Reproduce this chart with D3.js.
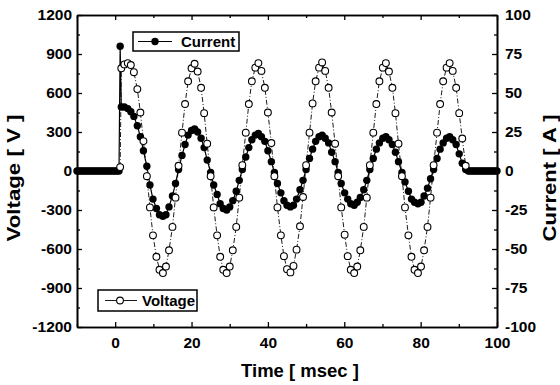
<!DOCTYPE html>
<html>
<head>
<meta charset="utf-8">
<script src="https://cdn.jsdelivr.net/npm/d3@7"></script>
<style>
  body { margin: 0; background: #fff; }
  svg text { font-family: 'Liberation Sans', Arial, sans-serif; font-weight: bold; fill: #000; }
  .axis path, .axis line { stroke: #000; }
  .axis path { stroke-width: 1.6; }
  .axis line { stroke-width: 1.3; }
  .axis text { font-size: 15.5px; }
</style>
</head>
<body>
<svg id="chart" width="560" height="385"></svg>
<script>
// tick labels
var xTicks = [0, 20, 40, 60, 80, 100]
var xMinor = [-10, 10, 30, 50, 70, 90]
var voltTicks = [-1200, -900, -600, -300, 0, 300, 600, 900, 1200]
var voltMinor = [-1050, -750, -450, -150, 150, 450, 750, 1050]
var ampTicks = [-100, -75, -50, -25, 0, 25, 50, 75, 100]
var ampMinor = [-87.5, -62.5, -37.5, -12.5, 12.5, 37.5, 62.5, 87.5]

// flat parts before the pulse and after it (msec)
var flatBeforeTime = [-10, -9.5, -9, -8.5, -8, -7.5, -7, -6.5, -6, -5.5, -5, -4.5, -4, -3.5, -3, -2.5, -2, -1.5, -1, -0.5, 0, 0.5, 1]
var flatAfterTime = [92.5, 93, 93.5, 94, 94.5, 95, 95.5, 96, 96.5, 97, 97.5, 98, 98.5, 99, 99.5, 100]

// samples during the pulse (msec)
var pulseTime = [
  1.6, 2.4, 3.3, 4.1, 4.9, 5.8, 6.6, 7.4, 8.3, 9.1,
  9.9, 10.8, 11.6, 12.5, 13.3, 14.1, 15.0, 15.8, 16.6, 17.5,
  18.3, 19.1, 20.0, 20.8, 21.6, 22.5, 23.3, 24.1, 25.0, 25.8,
  26.7, 27.5, 28.3, 29.2, 30.0, 30.8, 31.7, 32.5, 33.3, 34.2,
  35.0, 35.8, 36.7, 37.5, 38.3, 39.2, 40.0, 40.9, 41.7, 42.5,
  43.4, 44.2, 45.0, 45.9, 46.7, 47.5, 48.4, 49.2, 50.0, 50.9,
  51.7, 52.5, 53.4, 54.2, 55.0, 55.9, 56.7, 57.6, 58.4, 59.2,
  60.1, 60.9, 61.7, 62.6, 63.4, 64.2, 65.1, 65.9, 66.7, 67.6,
  68.4, 69.2, 70.1, 70.9, 71.7, 72.6, 73.4, 74.2, 75.1, 75.9,
  76.8, 77.6, 78.4, 79.3, 80.1, 80.9, 81.8, 82.6, 83.4, 84.3,
  85.1, 85.9, 86.8, 87.6, 88.4, 89.3, 90.1, 90.9, 91.8
]

// current [A]
var currentBefore = [0, 0, 0, 0, 0, 0, 0, 0, 0, 0, 0, 0, 0, 0, 0, 0, 0, 0, 0, 0, 0, 0, 0]
var spikeTime = 1.3
var spikeAmps = 80
var currentPulse = [
  41, 41, 40, 38, 35, 29, 22, 13, 3, -9,
  -18, -24, -28, -29, -28, -23, -16, -8, 1, 10,
  17, 23, 26, 27, 25, 21, 15, 7, -1, -9,
  -15, -21, -24, -25, -23, -19, -13, -6, 1, 9,
  15, 20, 23, 24, 22, 19, 13, 6, -1, -8,
  -14, -19, -22, -23, -22, -18, -12, -6, 1, 8,
  14, 19, 22, 23, 21, 18, 12, 6, -1, -8,
  -14, -18, -21, -22, -20, -17, -12, -6, 1, 8,
  14, 18, 21, 22, 20, 17, 12, 6, -1, -7,
  -13, -18, -20, -21, -20, -16, -11, -5, 1, 8,
  14, 18, 21, 22, 20, 17, 11, 5, 1
]
var currentAfter = [0, 0, 0, 0, 0, 0, 0, 0, 0, 0, 0, 0, 0, 0, 0, 0]

// voltage [V]
var voltStartTime = 1.3
var voltStart = 30
var voltPulse = [
  790, 820, 830, 815, 760, 630, 450, 230, -40, -280,
  -495, -660, -760, -785, -735, -610, -430, -205, 40, 295,
  515, 690, 790, 825, 765, 640, 445, 210, -40, -280,
  -495, -660, -760, -785, -735, -610, -430, -205, 45, 295,
  515, 690, 795, 830, 770, 640, 450, 215, -40, -280,
  -495, -655, -755, -780, -730, -605, -425, -200, 45, 295,
  520, 690, 795, 835, 770, 640, 450, 210, -40, -280,
  -490, -655, -760, -785, -735, -610, -430, -205, 45, 295,
  515, 690, 795, 830, 765, 640, 445, 210, -40, -280,
  -495, -660, -760, -785, -735, -610, -430, -205, 45, 295,
  515, 690, 795, 830, 770, 640, 445, 250, 40
]

var currentData = flatBeforeTime.map(function(t, i) { return {t: t, v: currentBefore[i]} })
  .concat([{t: spikeTime, v: spikeAmps}])
  .concat(pulseTime.map(function(t, i) { return {t: t, v: currentPulse[i]} }))
  .concat(flatAfterTime.map(function(t, i) { return {t: t, v: currentAfter[i]} }))

var voltageData = [{t: voltStartTime, v: voltStart}]
  .concat(pulseTime.map(function(t, i) { return {t: t, v: voltPulse[i]} }))

var margin = {top: 15, right: 63, bottom: 58, left: 77}
  , width = 560 - margin.left - margin.right
  , height = 385 - margin.top - margin.bottom

const xScale = d3.scaleLinear().domain([-10, 100]).range([0, width])
const yVolt = d3.scaleLinear().domain([-1200, 1200]).range([height, 0])
const yAmp = d3.scaleLinear().domain([-100, 100]).range([height, 0])

// plain numbers with a hyphen minus, no thousands comma
var plain = function(d) { return String(d) }

const svg = d3.select('#chart')
  .append('g')
    .attr('transform', 'translate(' + margin.left + ',' + margin.top + ')')

// axes, ticks pointing inward
svg.append('g')
    .attr('class', 'axis')
    .attr('transform', 'translate(0,' + height + ')')
    .call(d3.axisBottom(xScale).tickValues(xTicks).tickSizeInner(-5).tickSizeOuter(0).tickPadding(10).tickFormat(plain))
svg.append('g')
    .attr('class', 'axis')
    .attr('transform', 'translate(0,' + height + ')')
    .call(d3.axisBottom(xScale).tickValues(xMinor).tickSizeInner(-3).tickSizeOuter(0).tickFormat(''))
svg.append('g')
    .attr('class', 'axis')
    .call(d3.axisTop(xScale).tickValues(xTicks).tickSizeInner(-5).tickSizeOuter(0).tickFormat(''))
svg.append('g')
    .attr('class', 'axis')
    .call(d3.axisTop(xScale).tickValues(xMinor).tickSizeInner(-3).tickSizeOuter(0).tickFormat(''))

svg.append('g')
    .attr('class', 'axis')
    .call(d3.axisLeft(yVolt).tickValues(voltTicks).tickSizeInner(-5).tickSizeOuter(0).tickPadding(5).tickFormat(plain))
svg.append('g')
    .attr('class', 'axis')
    .call(d3.axisLeft(yVolt).tickValues(voltMinor).tickSizeInner(-3).tickSizeOuter(0).tickFormat(''))

svg.append('g')
    .attr('class', 'axis')
    .attr('transform', 'translate(' + width + ',0)')
    .call(d3.axisRight(yAmp).tickValues(ampTicks).tickSizeInner(-5).tickSizeOuter(0).tickPadding(8).tickFormat(plain))
svg.append('g')
    .attr('class', 'axis')
    .attr('transform', 'translate(' + width + ',0)')
    .call(d3.axisRight(yAmp).tickValues(ampMinor).tickSizeInner(-3).tickSizeOuter(0).tickFormat(''))

// current: solid line, filled dots
var currentLine = d3.line()
  .x(function(d) { return xScale(d.t) })
  .y(function(d) { return yAmp(d.v) })

svg.append('path')
    .datum(currentData)
    .attr('fill', 'none')
    .attr('stroke', '#000')
    .attr('stroke-width', 1.2)
    .attr('d', currentLine)

svg.append('g').selectAll('circle')
    .data(currentData)
    .enter().append('circle')
      .attr('cx', function(d) { return xScale(d.t) })
      .attr('cy', function(d) { return yAmp(d.v) })
      .attr('r', 3.7)
      .attr('fill', '#000')

// voltage: dash-dot line, open circles
var voltLine = d3.line()
  .x(function(d) { return xScale(d.t) })
  .y(function(d) { return yVolt(d.v) })

svg.append('path')
    .datum(voltageData)
    .attr('fill', 'none')
    .attr('stroke', '#000')
    .attr('stroke-width', 0.9)
    .attr('stroke-dasharray', '5,2,1,2')
    .attr('d', voltLine)

svg.append('g').selectAll('circle')
    .data(voltageData)
    .enter().append('circle')
      .attr('cx', function(d) { return xScale(d.t) })
      .attr('cy', function(d) { return yVolt(d.v) })
      .attr('r', 3.4)
      .attr('fill', '#fff')
      .attr('stroke', '#000')
      .attr('stroke-width', 1.1)

// legends
var root = d3.select('#chart')

var leg1 = root.append('g').attr('transform', 'translate(133,32)')
leg1.append('rect').attr('width', 106).attr('height', 19)
    .attr('fill', '#fff').attr('stroke', '#000').attr('stroke-width', 1.5)
leg1.append('line').attr('x1', 5).attr('x2', 39).attr('y1', 9.5).attr('y2', 9.5)
    .attr('stroke', '#000').attr('stroke-width', 1.2)
leg1.append('circle').attr('cx', 22).attr('cy', 9.5).attr('r', 3.7).attr('fill', '#000')
leg1.append('text').attr('x', 48).attr('y', 15).style('font-size', '15px').text('Current')

var leg2 = root.append('g').attr('transform', 'translate(98,290)')
leg2.append('rect').attr('width', 99).attr('height', 21)
    .attr('fill', '#fff').attr('stroke', '#000').attr('stroke-width', 1.5)
leg2.append('line').attr('x1', 7).attr('x2', 39).attr('y1', 10.5).attr('y2', 10.5)
    .attr('stroke', '#000').attr('stroke-width', 0.9)
leg2.append('circle').attr('cx', 22).attr('cy', 10.5).attr('r', 3.4)
    .attr('fill', '#fff').attr('stroke', '#000').attr('stroke-width', 1.1)
leg2.append('text').attr('x', 44).attr('y', 16).style('font-size', '15px').text('Voltage')

// axis titles
root.append('text')
    .attr('transform', 'translate(20,178) rotate(-90)')
    .attr('text-anchor', 'middle')
    .attr('textLength', 127)
    .attr('lengthAdjust', 'spacingAndGlyphs')
    .style('font-size', '18px')
    .text('Voltage [ V ]')

root.append('text')
    .attr('transform', 'translate(556,178) rotate(-90)')
    .attr('text-anchor', 'middle')
    .attr('textLength', 127)
    .attr('lengthAdjust', 'spacingAndGlyphs')
    .style('font-size', '18px')
    .text('Current [ A ]')

root.append('text')
    .attr('x', 300)
    .attr('y', 377)
    .attr('text-anchor', 'middle')
    .style('font-size', '18.5px')
    .text('Time [ msec ]')
</script>
</body>
</html>
